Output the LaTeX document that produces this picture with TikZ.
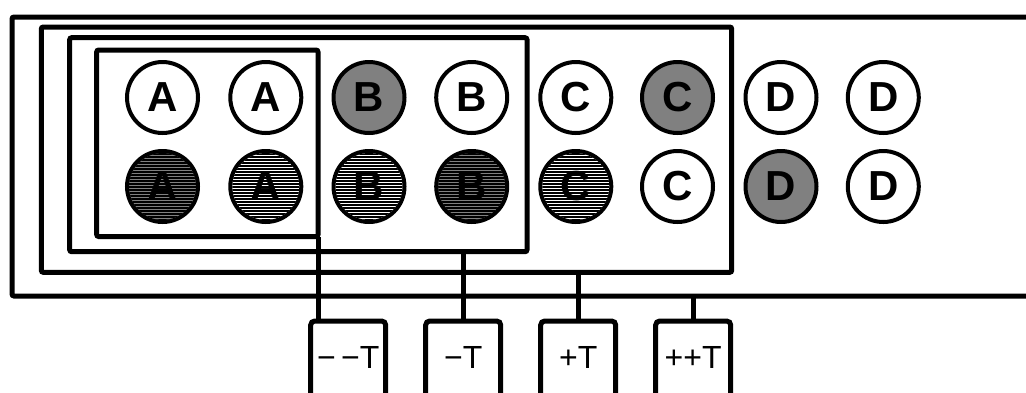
\documentclass[tikz,border=0pt]{standalone}
\usepackage{fontspec}
\setmainfont{Liberation Sans}
\definecolor{midgray}{HTML}{808080}
\tikzset{
  frame/.style={draw, line width=5pt, rounded corners=2pt, rectangle, inner sep=0pt, outer sep=0pt},
  circ/.style={draw, circle, line width=4pt, minimum size=71pt, inner sep=0pt, outer sep=0pt,
     font=\fontsize{42}{42}\selectfont\bfseries},
  grayc/.style={circ, fill=midgray},
  ltr/.style={inner sep=0pt, font=\fontsize{42}{42}\selectfont\bfseries},
  tbox/.style={draw, line width=5pt, rounded corners=4pt, rectangle, minimum width=75pt, minimum height=100pt, inner sep=0pt, outer sep=0pt},
  tlabel/.style={font=\fontsize{32}{32}\selectfont, inner sep=0pt},
  conn/.style={line width=5pt},
}
% hatched circle: #1 name, #2 background colour, #3 letter, #4 position
\newcommand\hatchcirc[4]{%
  \node[circ, fill=#2] (#1) at #4 {};
  \begin{scope}
    \clip (#1.center) circle[radius=33.5pt];
    \foreach \k in {48,...,76}
      \draw[line width=1.5pt] ([xshift=-40pt]#1.center |- 0,3*\k+0.75) -- ([xshift=40pt]#1.center |- 0,3*\k+0.75);
  \end{scope}
  \node[ltr] (#1t) at (#1.center) {#3};
}
\begin{document}
\begin{tikzpicture}[x=1pt,y=-1pt]
\clip (0,0) rectangle (1026,392);
\useasboundingbox (0,0) rectangle (1026,392);
% frames
\node[frame, minimum width=1088pt, minimum height=279pt] (r1) at (556,156.5) {};
\node[frame, minimum width=690.4pt, minimum height=245.3pt] (r2) at (386.5,149.65) {};
\node[frame, minimum width=457.3pt, minimum height=214pt] (r3) at (298.35,144.7) {};
\node[frame, minimum width=221.3pt, minimum height=186.5pt] (r4) at (207.35,143.25) {};
% top row
\node[circ]  (a1) at (162.5,97.5) {A};
\node[circ]  (a2) at (265.8,97.5) {A};
\node[grayc] (b1) at (369,97.5) {B};
\node[circ]  (b2) at (471.7,97.5) {B};
\node[circ]  (c1) at (575.8,97.5) {C};
\node[grayc] (c2) at (677.5,97.5) {C};
\node[circ]  (d1) at (781,97.5) {D};
\node[circ]  (d2) at (883.3,97.5) {D};
% bottom row
\hatchcirc{a3}{midgray}{A}{(162.5,186.5)}
\hatchcirc{a4}{white}{A}{(265.8,186.5)}
\hatchcirc{b3}{white}{B}{(369,186.5)}
\hatchcirc{b4}{midgray}{B}{(471.7,186.5)}
\hatchcirc{c3}{white}{C}{(575.8,186.5)}
\node[circ]   (c4) at (677.5,186.5) {C};
\node[grayc]  (d3) at (781,186.5) {D};
\node[circ]   (d4) at (883.3,186.5) {D};
% T boxes
\node[tbox] (t1) at (348.2,371) {};
\node[tbox] (t2) at (463.2,371) {};
\node[tbox] (t3) at (578.2,371) {};
\node[tbox] (t4) at (693.2,371) {};
\node[tlabel] (l1) at (348.2,357) {−\,−T};
\node[tlabel] (l2) at (463.2,357) {−T};
\node[tlabel] (l3) at (578.2,357) {+T};
\node[tlabel] (l4) at (693.2,357) {++T};
% connectors
\draw[conn] (r4.south east) -- (r4.south east |- t1.north);
\draw[conn] (t2.north) -- (t2.north |- r3.south);
\draw[conn] (t3.north) -- (t3.north |- r2.south);
\draw[conn] (t4.north) -- (t4.north |- r1.south);
\end{tikzpicture}
\end{document}
